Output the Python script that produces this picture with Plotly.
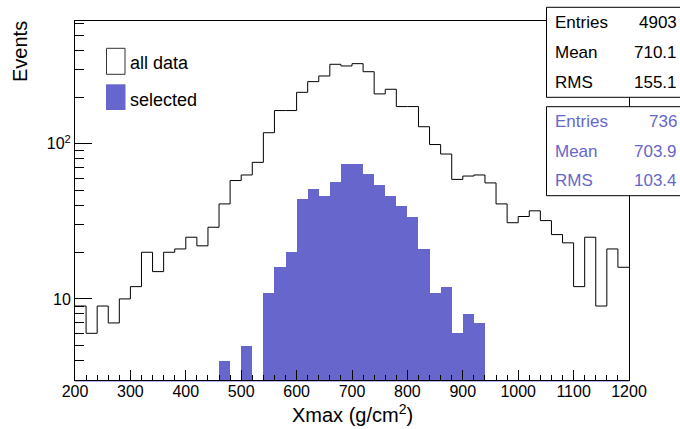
import plotly.graph_objects as go

# ---- data ----
bin_lo = 200
bin_width = 20
all_data = [9, 6, 9, 7, 10, 12, 20, 15, 20, 21,
            25, 22, 29, 41, 58, 63, 76, 118, 164, 164,
            215, 252, 274, 326, 318, 329, 292, 210, 225, 174,
            174, 129, 99, 86, 59, 62, 63, 56, 41, 31,
            34, 37, 32, 26, 23, 12, 25, 9, 21, 16]
selected = [0, 0, 0, 0, 0, 0, 0, 0, 0, 0,
            0, 0, 0, 4, 0, 5, 0, 11, 16, 20,
            44, 51, 46, 57, 74, 74, 64, 54, 46, 40,
            34, 21, 11, 12, 6, 8, 7, 0, 0, 0,
            0, 0, 0, 0, 0, 0, 0, 0, 0, 0]
stats_all = [("Entries", "4903"), ("Mean", "710.1"), ("RMS", "155.1")]
stats_sel = [("Entries", "736"), ("Mean", "703.9"), ("RMS", "103.4")]
y_minor_ticks = [3, 4, 5, 6, 7, 8, 9, 20, 30, 40, 50, 60, 70, 80, 90, 200, 300, 400, 500, 600]

BLUE = "#6666CC"
FONT = "Liberation Sans, Arial, sans-serif"

n = len(all_data)
edges = [bin_lo + i * bin_width for i in range(n + 1)]
centers = [bin_lo + (i + 0.5) * bin_width for i in range(n)]

# figure geometry (pixels)
W, H = 680, 429
L, R, T, B = 75, 629, 21, 380
def px(x):
    return (x - L) / (R - L)
def py(y):
    return (B - y) / (B - T)

fig = go.Figure()
sel_x = [c for c, v in zip(centers, selected) if v > 0]
sel_y = [v for v in selected if v > 0]
fig.add_trace(go.Bar(x=sel_x, y=sel_y, width=bin_width,
                     marker=dict(color=BLUE, line=dict(width=0)),
                     showlegend=False, hoverinfo="skip"))
fig.add_trace(go.Scatter(x=edges, y=all_data + [all_data[-1]],
                         mode="lines", line=dict(shape="hv", color="black", width=1),
                         showlegend=False, hoverinfo="skip"))

shapes = []
annotations = []

# thin blue zero-level line of the selected histogram
shapes.append(dict(type="line", xref="paper", yref="paper",
                   x0=0, x1=1, y0=py(381), y1=py(381),
                   line=dict(color=BLUE, width=1), layer="below"))

# stats boxes
for (top, bottom, rows, color) in [(7.3, 97.3, stats_all, "black"),
                                   (106.7, 195.7, stats_sel, BLUE)]:
    shapes.append(dict(type="rect", xref="paper", yref="paper",
                       x0=px(546.5), x1=px(690), y0=py(bottom), y1=py(top),
                       fillcolor="white", line=dict(color="black", width=1), layer="above"))
    rh = (bottom - top) / 3
    for i, (k, v) in enumerate(rows):
        yc = top + rh * (i + 0.5)
        annotations.append(dict(xref="paper", yref="paper", x=px(553), y=py(yc),
                                text=k, showarrow=False, xanchor="left", yanchor="middle",
                                font=dict(family=FONT, size=17, color=color)))
        annotations.append(dict(xref="paper", yref="paper", x=px(678.5), y=py(yc),
                                text=v, showarrow=False, xanchor="right", yanchor="middle",
                                font=dict(family=FONT, size=17, color=color)))

# legend
shapes.append(dict(type="rect", xref="paper", yref="paper",
                   x0=px(106.5), x1=px(125), y0=py(74.3), y1=py(48.3),
                   fillcolor="white", line=dict(color="#333333", width=1)))
shapes.append(dict(type="rect", xref="paper", yref="paper",
                   x0=px(106), x1=px(125.5), y0=py(110), y1=py(84.3),
                   fillcolor=BLUE, line=dict(width=0)))
annotations.append(dict(xref="paper", yref="paper", x=px(128), y=py(63),
                        text="all data", showarrow=False, xanchor="left", yanchor="middle",
                        font=dict(family=FONT, size=18, color="black")))
annotations.append(dict(xref="paper", yref="paper", x=px(128), y=py(99.5),
                        text="selected", showarrow=False, xanchor="left", yanchor="middle",
                        font=dict(family=FONT, size=18, color="black")))

# axis titles
annotations.append(dict(xref="paper", yref="paper", x=px(20), y=py(52),
                        text="Events", textangle=-90, showarrow=False,
                        xanchor="center", yanchor="middle",
                        font=dict(family=FONT, size=20, color="black")))
annotations.append(dict(xref="paper", yref="paper", x=0.5, y=py(414),
                        text="Xmax (g/cm<sup>2</sup>)", showarrow=False,
                        xanchor="center", yanchor="middle",
                        font=dict(family=FONT, size=20, color="black")))

fig.update_layout(
    width=W, height=H,
    margin=dict(l=L, r=W - R, t=T, b=H - B, pad=0),
    paper_bgcolor="white", plot_bgcolor="white",
    bargap=0, showlegend=False,
    shapes=shapes, annotations=annotations,
    font=dict(family=FONT, size=16, color="black"),
    xaxis=dict(range=[200, 1200], tick0=200, dtick=100, ticks="inside", ticklen=10,
               tickwidth=1, tickcolor="black", showline=True, linecolor="black", linewidth=1,
               mirror=True, showgrid=False, zeroline=False, ticklabelstandoff=-3,
               tickfont=dict(family=FONT, size=16, color="black"),
               minor=dict(dtick=20, tick0=200, ticks="inside", ticklen=5, tickcolor="black",
                          showgrid=False)),
    yaxis=dict(type="log", range=[0.4771, 2.7924], tickvals=[10, 100],
               ticktext=["10", "10<sup>2</sup>"], ticks="inside", ticklen=17, tickwidth=1,
               tickcolor="black", showline=True, linecolor="black", linewidth=1,
               mirror=True, showgrid=False, zeroline=False,
               tickfont=dict(family=FONT, size=16, color="black"),
               minor=dict(tickvals=y_minor_ticks, ticks="inside", ticklen=9,
                          tickcolor="black", showgrid=False)),
)

fig.write_html("out.html", config={"displayModeBar": False},
               post_script="document.body.style.margin='0';document.body.style.overflow='hidden';")
